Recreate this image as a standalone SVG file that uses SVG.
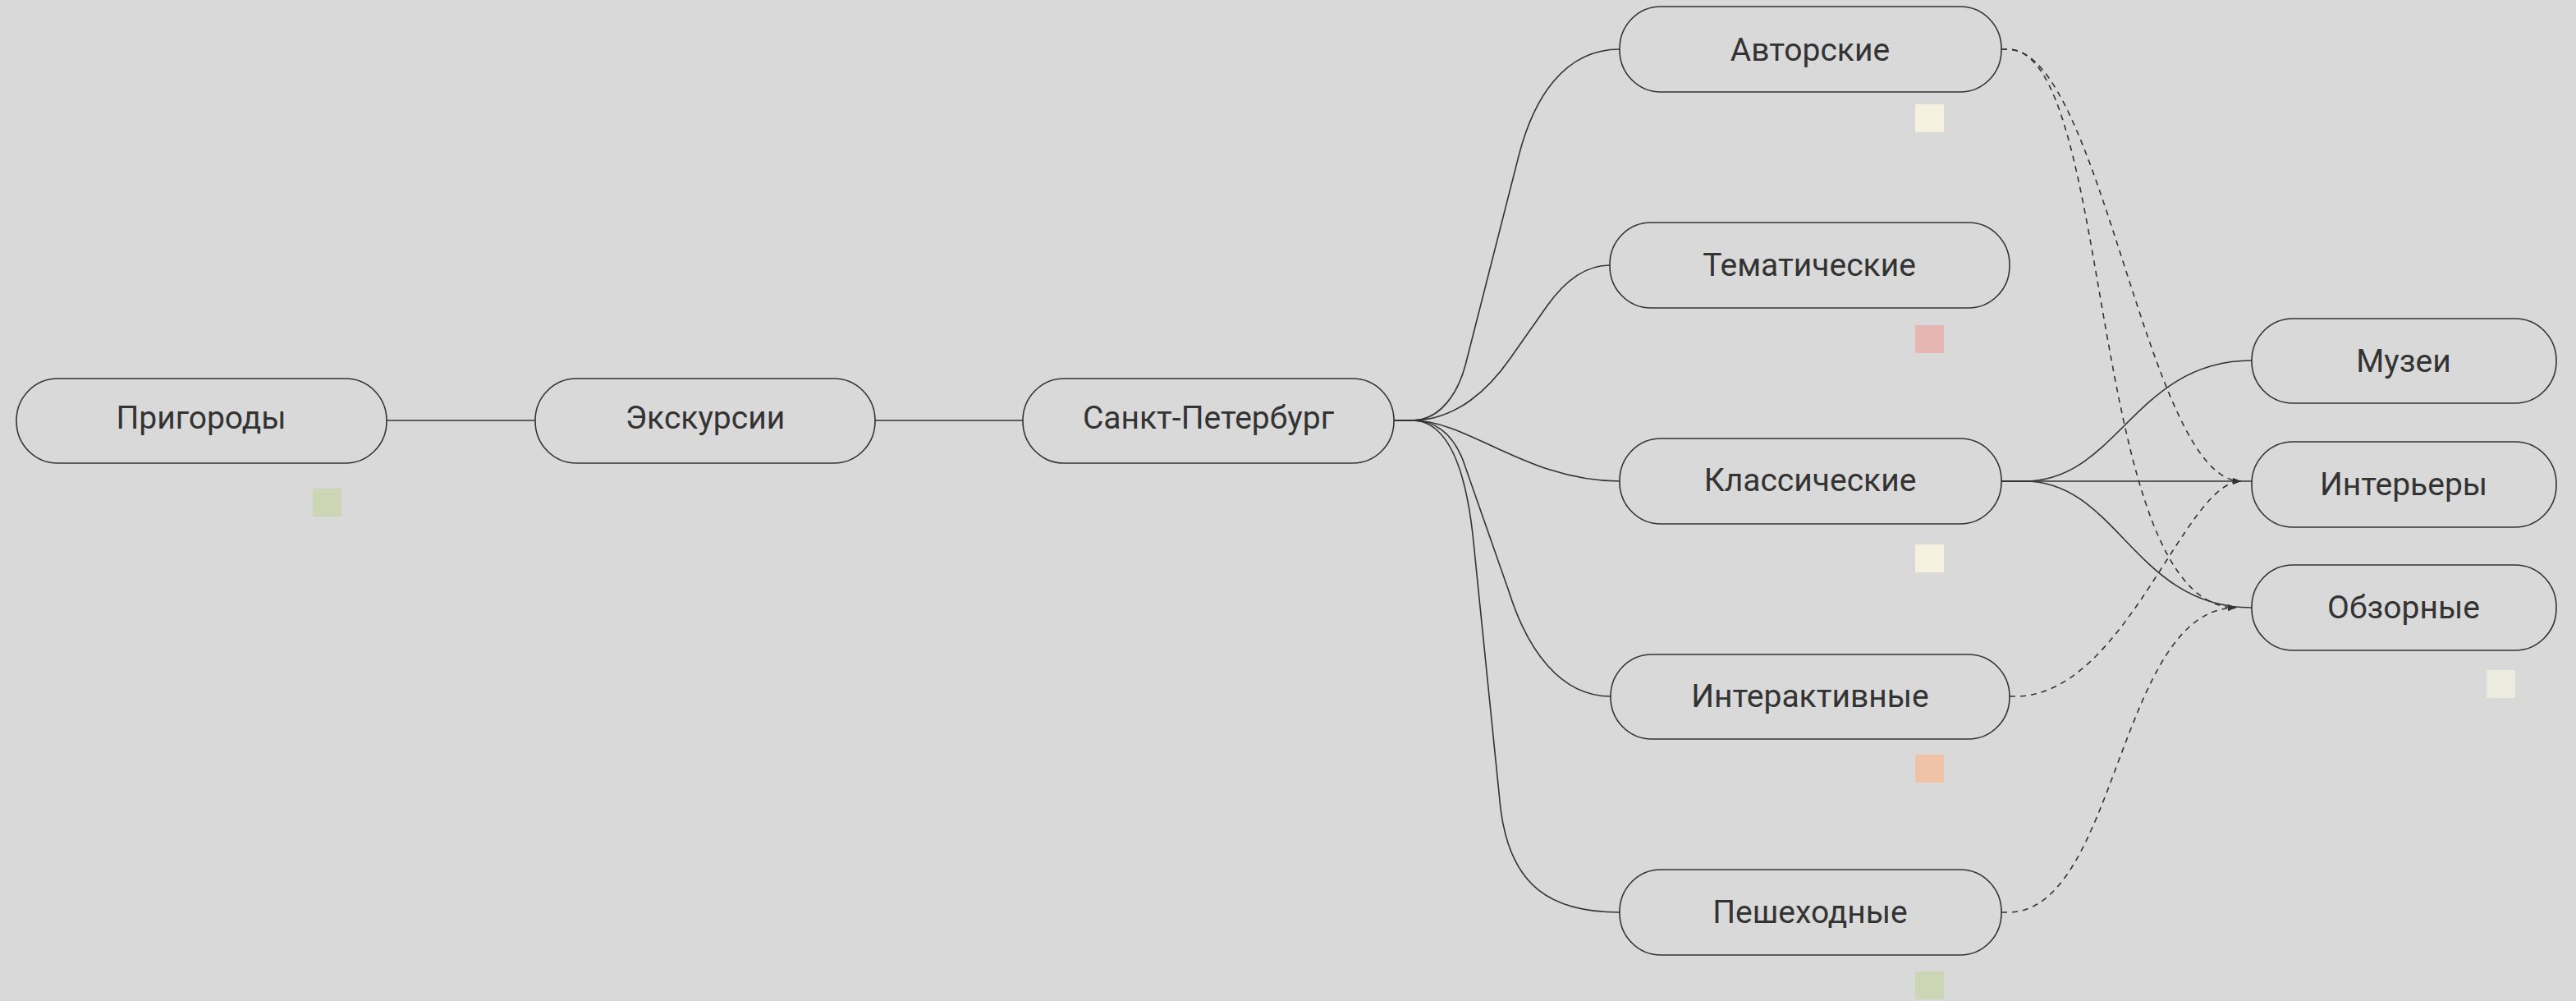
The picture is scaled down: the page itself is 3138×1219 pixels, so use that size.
<svg xmlns="http://www.w3.org/2000/svg" width="3138" height="1219" viewBox="0 0 3138 1219">
<defs>
<style>
.node rect{fill:#d9d9d9;stroke:#333;stroke-width:1.6}
.node text{font-family:Roboto,"Liberation Sans",sans-serif;font-size:39px;fill:#333;text-anchor:middle}
.edge{fill:none;stroke:#333;stroke-width:1.6}
.dash{fill:none;stroke:#333;stroke-width:1.6;stroke-dasharray:7 6}
</style>
<marker id="arr" viewBox="0 0 10 8" refX="10" refY="4" markerWidth="10" markerHeight="8" markerUnits="userSpaceOnUse" orient="auto">
<path d="M0,0 L10,4 L0,8 z" fill="#333"/>
</marker>
</defs>
<rect x="0" y="0" width="3138" height="1219" fill="#d9d9d9"/>
<g id="connectors">
<path class="edge" d="M471,512 H652"/>
<path class="edge" d="M1066,512 H1246"/>
<path class="edge" d="M1698,512 H1720 C1755,512 1776,478 1785,445 L1850,190 C1868,120 1905,60 1973,60"/>
<path class="edge" d="M1698,512 H1720 C1775,512 1815,472 1840,436 L1885,372 C1905,344 1930,323 1961,323"/>
<path class="edge" d="M1698,512 H1720 C1790,512 1860,586 1973,586"/>
<path class="edge" d="M1698,512 H1720 C1755,512 1772,535 1782,560 L1838,720 C1860,790 1900,848 1962,848"/>
<path class="edge" d="M1698,512 H1720 C1760,512 1785,560 1795,660 L1828,985 C1840,1080 1890,1111 1973,1111"/>
<path class="edge" d="M2438,586 H2466 C2580,586 2600,439 2743,439"/>
<path class="edge" d="M2438,586 H2743"/>
<path class="edge" d="M2438,586 H2466 C2580,586 2600,740 2743,740"/>
<path class="dash" marker-end="url(#arr)" d="M2438,60 H2446 C2560,60 2615,586 2730,586"/>
<path class="dash" marker-end="url(#arr)" d="M2438,60 H2446 C2577,60 2540,740 2724,740"/>
<path class="dash" marker-end="url(#arr)" d="M2448,848 H2455 C2589,848 2661,586 2730,586"/>
<path class="dash" marker-end="url(#arr)" d="M2438,1111 H2446 C2580,1111 2580,740 2724,740"/>
</g>
<g id="n-prigorody" class="node"><rect x="20" y="461" width="451" height="103" rx="50" ry="51"/><text x="245" y="522">Пригороды</text></g>
<g id="n-ekskursii" class="node"><rect x="652" y="461" width="414" height="103" rx="50" ry="51"/><text x="859" y="522">Экскурсии</text></g>
<g id="n-spb" class="node"><rect x="1246" y="461" width="452" height="103" rx="50" ry="51"/><text x="1472" y="522">Санкт-Петербург</text></g>
<g id="n-avtorskie" class="node"><rect x="1973" y="8" width="465" height="104" rx="50" ry="51"/><text x="2205" y="74">Авторские</text></g>
<g id="n-tematicheskie" class="node"><rect x="1961" y="271" width="487" height="104" rx="50" ry="51"/><text x="2204" y="336">Тематические</text></g>
<g id="n-klassicheskie" class="node"><rect x="1973" y="534" width="465" height="104" rx="50" ry="51"/><text x="2205" y="598">Классические</text></g>
<g id="n-interaktivnye" class="node"><rect x="1962" y="797" width="486" height="103" rx="50" ry="51"/><text x="2205" y="861">Интерактивные</text></g>
<g id="n-peshehodnye" class="node"><rect x="1973" y="1059" width="465" height="104" rx="50" ry="51"/><text x="2205" y="1124">Пешеходные</text></g>
<g id="n-muzei" class="node"><rect x="2743" y="388" width="371" height="103" rx="50" ry="51"/><text x="2928" y="453">Музеи</text></g>
<g id="n-interery" class="node"><rect x="2743" y="538" width="371" height="104" rx="50" ry="51"/><text x="2928" y="603">Интерьеры</text></g>
<g id="n-obzornye" class="node"><rect x="2743" y="688" width="371" height="104" rx="50" ry="51"/><text x="2928" y="753">Обзорные</text></g>
<g id="swatches">
<rect x="381" y="595" width="35" height="34" fill="#cdd6b4"/>
<rect x="2333" y="127" width="35" height="34" fill="#f6f0e1"/>
<rect x="2333" y="396" width="35" height="34" fill="#e6b7b2"/>
<rect x="2333" y="663" width="35" height="34" fill="#f6f0e1"/>
<rect x="2333" y="919" width="35" height="34" fill="#f0c3a9"/>
<rect x="2333" y="1183" width="35" height="34" fill="#cdd6b4"/>
<rect x="3029" y="816" width="35" height="34" fill="#ebecdf"/>
</g>
</svg>
